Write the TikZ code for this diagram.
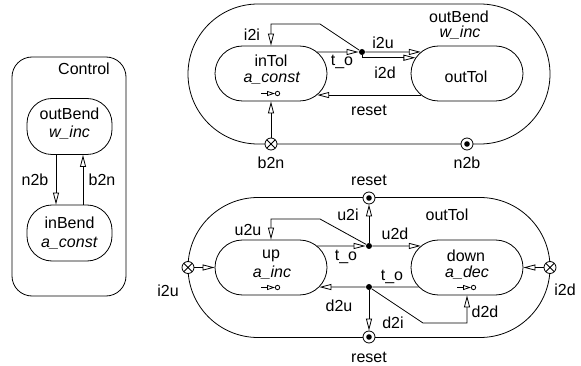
\documentclass[tikz,border=0pt]{standalone}
\usepackage{fontspec}
\setmainfont{Liberation Sans}
\usetikzlibrary{shapes,arrows.meta}
\tikzset{state/.style={draw, rounded rectangle, minimum width=112pt, minimum height=55pt, inner sep=0pt},
    bendstate/.style={draw, rectangle, rounded corners=25pt, minimum width=85pt, minimum height=56pt, inner sep=0pt},
    super/.style={draw, rounded rectangle, minimum width=362pt, minimum height=140pt, inner sep=0pt},
    trans/.style={-{Triangle[open,length=12pt,width=6pt]}},
    smalltip/.style={-{Triangle[open,length=8pt,width=5pt]}},
    junct/.style={circle, fill, inner sep=0pt, minimum size=6pt},
    entrypt/.style={circle, draw, fill=white, inner sep=0pt, minimum size=12pt,
        path picture={\draw (path picture bounding box.north west) -- (path picture bounding box.south east)
            (path picture bounding box.north east) -- (path picture bounding box.south west);}},
    exitpt/.style={circle, draw, fill=white, inner sep=0pt, minimum size=12pt,
        path picture={\fill[black] (path picture bounding box.center) circle (2.8pt);}},
    lbl/.style={inner sep=0pt}}
\def\doneMark#1{\draw[smalltip] ([shift={(-10pt,-20pt)}]#1.center) -- ++(14,0);
    \draw ([shift={(6.5pt,-20pt)}]#1.center) circle (2.2pt);}

\begin{document}
\begin{tikzpicture}[x=1pt, y=-1pt, line width=0.8pt, font=\fontsize{16}{19}\selectfont]
    \useasboundingbox (0,0) rectangle (581,366);
    % Control
    \node[draw, rounded corners=20pt, minimum width=114pt, minimum height=239pt] (control) at (69,176.5) {};
    \node[lbl] (controlName) at (84,69) {Control};
    \node[bendstate] (lOut) at (69.5,126.5) {};
    \node[bendstate] (lIn) at (69.5,233) {};
    \node[lbl] (lOutName) at (69.5,114) {outBend};
    \node[lbl] (lOutAct) at (69.5,133) {\textit{w\_inc}};
    \node[lbl] (lInName) at (69.5,223) {inBend};
    \node[lbl] (lInAct) at (69.5,243) {\textit{a\_const}};
    \draw[trans] ([xshift=-13.5pt]lOut.south) -- ([xshift=-13.5pt]lIn.north);
    \draw[trans] ([xshift=13.5pt]lIn.north) -- ([xshift=13.5pt]lOut.south);
    \node[lbl] (n2bL) at (35,180) {n2b};
    \node[lbl] (b2nL) at (102,180) {b2n};

    % outBend
    \node[super] (bendOut) at (369,74) {};
    \node[state] (inTol) at (271,73.5) {};
    \node[state] (outTol) at (467,73.5) {};
    \node[lbl] (inTolName) at (271,61) {inTol};
    \node[lbl] (inTolAct) at (272,78) {\textit{a\_const}};
    \doneMark{inTol}
    \node[lbl] (outTolName) at (466,77) {outTol};
    \node[lbl] (bendOutName) at (459,17) {outBend};
    \node[lbl] (bendOutAct) at (460,33) {\textit{w\_inc}};
    \node[entrypt] (b2nIn) at (271,144) {};
    \node[exitpt] (n2bOut) at (467,144) {};
    \node[junct] (jOut) at (362,52) {};
    \coordinate (kI) at (320,24);
    \draw[trans] (inTol.25) -- (jOut);
    \draw[trans] (jOut) -- (outTol.155);
    \draw[trans] (jOut) |- (outTol.163);
    \draw[trans] (jOut) -- (kI) -| (inTol.north);
    \draw[trans] (outTol.205) -- (inTol.-25);
    \draw[trans] (b2nIn) -- (inTol.south);
    \node[lbl] (i2iL) at (252,35) {i2i};
    \node[lbl] (toI) at (342,62) {t\_o};
    \node[lbl] (i2uL) at (383,43) {i2u};
    \node[lbl] (i2dL) at (385,73) {i2d};
    \node[lbl] (resetI) at (369,110) {reset};
    \node[lbl] (b2nB) at (271,163) {b2n};
    \node[lbl] (n2bB) at (467,163) {n2b};

    % outTol
    \node[super] (tolOut) at (369,267.5) {};
    \node[state] (up) at (271,267.5) {};
    \node[state] (down) at (467,267.5) {};
    \node[lbl] (upName) at (271,256) {up};
    \node[lbl] (upAct) at (272,273) {\textit{a\_inc}};
    \doneMark{up}
    \node[lbl] (downName) at (466,256) {down};
    \node[lbl] (downAct) at (467,273) {\textit{a\_dec}};
    \doneMark{down}
    \node[lbl] (tolOutName) at (447,215) {outTol};
    \node[entrypt] (i2uIn) at (188,267.5) {};
    \node[entrypt] (i2dIn) at (550,267.5) {};
    \node[exitpt] (resetTop) at (369,198) {};
    \node[exitpt] (resetBot) at (369,337) {};
    \node[junct] (jUp) at (369,246) {};
    \node[junct] (jDown) at (369,287) {};
    \coordinate (kU) at (320,219);
    \coordinate (kD) at (423,323);
    \draw[trans] (i2uIn) -- (up.west);
    \draw[trans] (i2dIn) -- (down.east);
    \draw[trans] (up.25) -- (jUp);
    \draw[trans] (jUp) -- (down.155);
    \draw[trans] (jUp) -- (resetTop);
    \draw[trans] (jUp) -- (kU) -| (up.north);
    \draw (down.202) -- (jDown);
    \draw[trans] (jDown) -- (up.-22);
    \draw[trans] (jDown) -- (resetBot);
    \draw[trans] (jDown) -- (kD) -| (down.south);
    \node[lbl] (resetTopL) at (369,180) {reset};
    \node[lbl] (resetBotL) at (369,357) {reset};
    \node[lbl] (u2iL) at (348,215) {u2i};
    \node[lbl] (u2uL) at (248,230) {u2u};
    \node[lbl] (toU) at (346,257) {t\_o};
    \node[lbl] (u2dL) at (395,234) {u2d};
    \node[lbl] (toD) at (392,277) {t\_o};
    \node[lbl] (d2uL) at (339,306) {d2u};
    \node[lbl] (d2iL) at (393,323) {d2i};
    \node[lbl] (d2dL) at (485,312) {d2d};
    \node[lbl] (i2uL) at (168,291) {i2u};
    \node[lbl] (i2dL) at (565,290) {i2d};
\end{tikzpicture}
\end{document}
